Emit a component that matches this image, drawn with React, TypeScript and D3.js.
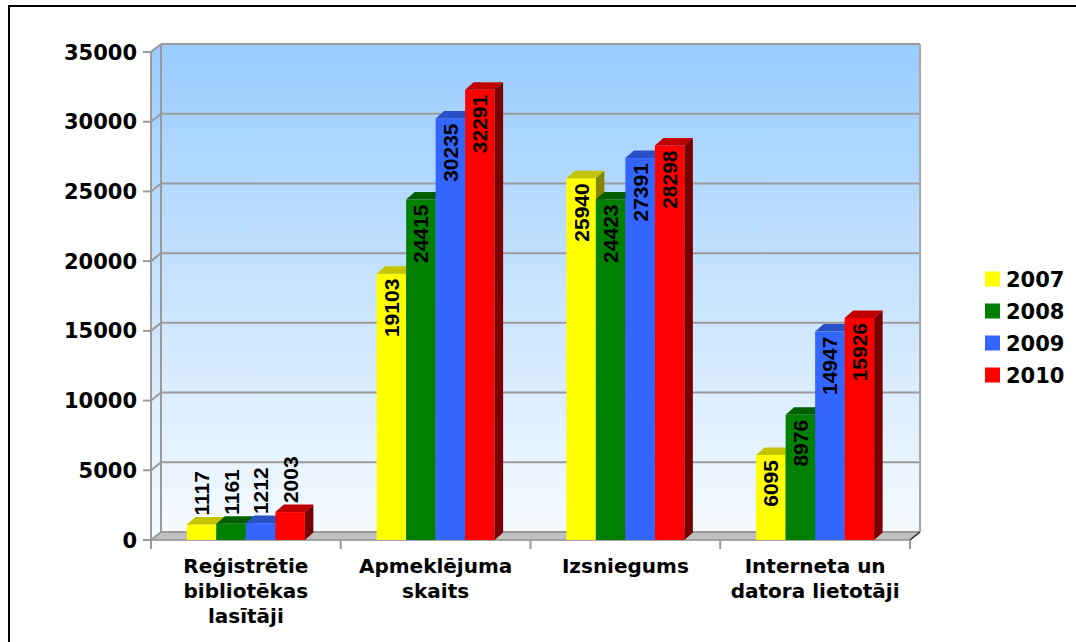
import React from "react";
import * as d3 from "d3";

const categories: string[][] = [
  ["Reģistrētie", "bibliotēkas", "lasītāji"],
  ["Apmeklējuma", "skaits"],
  ["Izsniegums"],
  ["Interneta un", "datora lietotāji"],
];
const seriesNames = ["2007", "2008", "2009", "2010"];
const values2007 = [1117, 19103, 25940, 6095];
const values2008 = [1161, 24415, 24423, 8976];
const values2009 = [1212, 30235, 27391, 14947];
const values2010 = [2003, 32291, 28298, 15926];
const yTicks = [0, 5000, 10000, 15000, 20000, 25000, 30000, 35000];

const seriesValues = [values2007, values2008, values2009, values2010];
const frontColors = ["#ffff00", "#008000", "#3366ff", "#ff0000"];
const topColors = ["#c4c400", "#006000", "#2a50c8", "#c00000"];
const sideColors = ["#858500", "#003f00", "#1c3a99", "#7a0000"];

const W = 1076;
const H = 642;
const X0 = 151;
const X1 = 910;
const DX = 10;
const DY = -8;
const BDX = 8.5;
const BDY = -7.5;

export default function App() {
  const y = d3.scaleLinear().domain([0, 35000]).range([540, 52]);
  const catIdx = categories.map((_, i) => String(i));
  const xCat = d3.scaleBand().domain(catIdx).range([X0, X1]).padding(0);
  const groupW = 118;
  const xSer = d3.scaleBand().domain(seriesNames).range([0, groupW]).padding(0);
  const bw = xSer.bandwidth();
  const gridColor = "#9a9a9a";
  const yTop = y(35000);
  const y0 = y(0);

  const tickFont = "'DejaVu Sans', Verdana, sans-serif";

  return (
    <svg
      width={W}
      height={H}
      style={{ position: "absolute", left: 0, top: 0, background: "#fff" }}
    >
      <defs>
        <linearGradient id="wallGrad2" gradientUnits="userSpaceOnUse" x1="0" y1={yTop + DY} x2="0" y2={y0}>
          <stop offset="0%" stopColor="#99ccff" />
          <stop offset="100%" stopColor="#f7fbff" />
        </linearGradient>
      </defs>
      <rect x={9} y={6} width={1100} height={700} fill="#fff" stroke="#000" strokeWidth={2} />

      {/* side wall */}
      <polygon
        points={`${X0},${yTop} ${X0 + DX},${yTop + DY} ${X0 + DX},${y0 + DY} ${X0},${y0}`}
        fill="url(#wallGrad2)"
      />
      {/* back wall */}
      <rect
        x={X0 + DX}
        y={yTop + DY}
        width={X1 - X0}
        height={y0 - yTop}
        fill="url(#wallGrad2)"
      />
      {/* floor */}
      <polygon
        points={`${X0},${y0} ${X0 + DX},${y0 + DY} ${X1 + DX},${y0 + DY} ${X1},${y0}`}
        fill="#c0c0c0"
        stroke={gridColor}
        strokeWidth={1}
      />

      {/* gridlines */}
      {yTicks.map((t) => (
        <g key={t}>
          <line x1={X0 - 8} x2={X0} y1={y(t)} y2={y(t)} stroke={gridColor} strokeWidth={2} />
          <line x1={X0} x2={X0 + DX} y1={y(t)} y2={y(t) + DY} stroke={gridColor} strokeWidth={2} />
          <line x1={X0 + DX} x2={X1 + DX} y1={y(t) + DY} y2={y(t) + DY} stroke={gridColor} strokeWidth={2} />
          <text
            x={137}
            y={y(t)}
            dy="0.36em"
            textAnchor="end"
            fontFamily={tickFont}
            fontWeight="bold"
            fontSize={21}
            fill="#000"
          >
            {t}
          </text>
        </g>
      ))}
      {/* wall edges */}
      <line x1={X0} x2={X0} y1={yTop} y2={y0 + 9} stroke={gridColor} strokeWidth={2} />
      <line x1={X0 + DX} x2={X0 + DX} y1={yTop + DY} y2={y0 + DY} stroke={gridColor} strokeWidth={2} />
      <line x1={X1 + DX} x2={X1 + DX} y1={yTop + DY} y2={y0 + DY} stroke="#a8a8a8" strokeWidth={2} />
      <line x1={X0} x2={X1} y1={y0} y2={y0} stroke={gridColor} strokeWidth={1.5} />
      <line x1={X1} x2={X1 + DX} y1={y0} y2={y0 + DY} stroke="#222" strokeWidth={1.5} />
      {/* category ticks */}
      {[...catIdx.map((c) => xCat(c) as number), X1].map((xv, i) => (
        <line key={i} x1={xv} x2={xv} y1={y0} y2={y0 + 9} stroke={gridColor} strokeWidth={2} />
      ))}

      {/* bars */}
      {catIdx.map((c, ci) => {
        const gx = (xCat(c) as number) + (xCat.bandwidth() - groupW) / 2;
        return (
          <g key={c}>
            {seriesNames.map((s, si) => {
              const v = seriesValues[si][ci];
              const xl = gx + (xSer(s) as number);
              const xr = xl + bw;
              const top = y(v);
              return (
                <g key={s}>
                  <rect x={xl} y={top} width={bw} height={y0 - top} fill={frontColors[si]} />
                  <polygon
                    points={`${xl},${top} ${xl + BDX},${top + BDY} ${xr + BDX},${top + BDY} ${xr},${top}`}
                    fill={topColors[si]}
                  />
                  <polygon
                    points={`${xr},${top} ${xr + BDX},${top + BDY} ${xr + BDX},${y0 + BDY} ${xr},${y0}`}
                    fill={sideColors[si]}
                  />
                </g>
              );
            })}
          </g>
        );
      })}

      {/* value labels */}
      {catIdx.map((c, ci) => {
        const gx = (xCat(c) as number) + (xCat.bandwidth() - groupW) / 2;
        return (
          <g key={"l" + c}>
            {seriesNames.map((s, si) => {
              const v = seriesValues[si][ci];
              const cx = gx + (xSer(s) as number) + bw / 2;
              const top = y(v);
              const label = String(v);
              const textLen = label.length * 11.7;
              const inside = y0 - top > textLen + 10;
              const ty = inside ? top + 5 : top - 9;
              return (
                <text
                  key={s}
                  transform={`translate(${cx},${ty}) rotate(-90)`}
                  textAnchor={inside ? "end" : "start"}
                  dy="0.36em"
                  fontFamily="'Liberation Sans', Arial, sans-serif"
                  fontWeight="bold"
                  fontSize={21}
                  fill="#000"
                >
                  {label}
                </text>
              );
            })}
          </g>
        );
      })}

      {/* category labels */}
      {catIdx.map((c, ci) => {
        const cx = (xCat(c) as number) + xCat.bandwidth() / 2;
        return (
          <text
            key={"c" + c}
            textAnchor="middle"
            fontFamily={tickFont}
            fontWeight="bold"
            fontSize={20}
            fill="#000"
          >
            {categories[ci].map((line, li) => (
              <tspan key={li} x={cx} y={573 + li * 25}>
                {line}
              </tspan>
            ))}
          </text>
        );
      })}

      {/* legend */}
      {seriesNames.map((s, si) => {
        const cy = 279 + si * 32;
        return (
          <g key={"lg" + s}>
            <rect x={985} y={cy - 7.5} width={15} height={15} fill={frontColors[si]} />
            <text
              x={1006}
              y={cy}
              dy="0.36em"
              fontFamily={tickFont}
              fontWeight="bold"
              fontSize={21}
              fill="#000"
            >
              {s}
            </text>
          </g>
        );
      })}
    </svg>
  );
}
